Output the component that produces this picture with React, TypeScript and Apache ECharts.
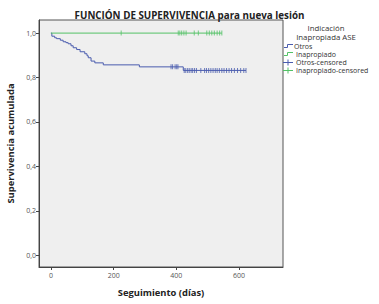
import React, { useEffect, useRef } from "react";
import * as echarts from "echarts";

// Kaplan-Meier: "Otros"
const otrosEventDays = [0, 3, 12, 18, 30, 39, 48, 55, 64, 71, 82, 93, 108, 115, 119, 128, 140, 167, 282, 422];
const otrosEventSurv = [1.0, 0.986, 0.979, 0.975, 0.968, 0.961, 0.957, 0.952, 0.943, 0.934, 0.926, 0.916, 0.907, 0.898, 0.889, 0.874, 0.866, 0.857, 0.848, 0.832];
const otrosEndDay = 622;
const otrosCensoredDays = [383, 388, 396, 401, 405, 425, 430, 436, 441, 447, 452, 458, 464, 478, 490, 496, 503, 510, 517, 524, 530, 537, 545, 552, 560, 568, 576, 585, 595, 605, 615, 622];

// Kaplan-Meier: "Inapropiado"
const inaEventDays = [0];
const inaEventSurv = [1.0];
const inaEndDay = 545;
const inaCensoredDays = [224, 406, 411, 417, 424, 431, 457, 470, 497, 505, 513, 521, 530, 538, 545];

const xTicks = [0, 200, 400, 600];
const yTicks = [0, 0.2, 0.4, 0.6, 0.8, 1.0];

const BLUE = "#4a5cae";
const GREEN = "#52c266";
const FONT = "Open Sans";

function survAt(days: number[], surv: number[], t: number): number {
  let s = surv[0];
  for (let i = 0; i < days.length; i++) if (days[i] <= t) s = surv[i];
  return s;
}

function curve(days: number[], surv: number[], end: number): number[][] {
  const pts = days.map((d, i) => [d, surv[i]]);
  pts.push([end, surv[surv.length - 1]]);
  return pts;
}

export default function App() {
  const ref = useRef<HTMLDivElement>(null);
  useEffect(() => {
    if (!ref.current) return;
    const chart = echarts.init(ref.current, undefined, { renderer: "svg" });
    const axisText = { fontFamily: FONT, fontSize: 7, color: "#555" };
    const legText = { fontFamily: FONT, fontSize: 7, fill: "#333", verticalAlign: "middle" as const };
    chart.setOption({
      animation: false,
      backgroundColor: "#ffffff",
      title: {
        text: "FUNCIÓN DE SUPERVIVENCIA para nueva lesión",
        left: "center",
        top: 5,
        textStyle: { fontFamily: FONT, fontSize: 9.8, fontWeight: "bold", color: "#222" },
      },
      grid: {
        left: 39,
        top: 20,
        right: 96,
        bottom: 37,
        show: true,
        containLabel: false,
        outerBoundsMode: "none",
        backgroundColor: "#efefef",
        borderColor: "#555",
        borderWidth: 1,
      },
      xAxis: {
        type: "value",
        min: -38,
        max: 740,
        name: "Seguimiento (días)",
        nameLocation: "middle",
        nameGap: 21,
        nameTextStyle: { fontFamily: FONT, fontSize: 9.4, fontWeight: "bold", color: "#222" },
        axisLine: { show: true, onZero: false, lineStyle: { color: "#444" } },
        axisTick: { show: true, length: 3, customValues: xTicks, lineStyle: { color: "#444" } },
        axisLabel: { ...axisText, margin: 5, customValues: xTicks, formatter: (v: number) => String(v) },
        splitLine: { show: false },
      },
      yAxis: {
        type: "value",
        min: -0.053,
        max: 1.059,
        name: "Supervivencia acumulada",
        nameLocation: "middle",
        nameGap: 23,
        nameTextStyle: { fontFamily: FONT, fontSize: 9.4, fontWeight: "bold", color: "#222" },
        axisLine: { show: true, onZero: false, lineStyle: { color: "#444" } },
        axisTick: { show: true, length: 3, customValues: yTicks, lineStyle: { color: "#444" } },
        axisLabel: {
          ...axisText,
          margin: 3,
          customValues: yTicks,
          formatter: (v: number) => v.toFixed(1).replace(".", ","),
        },
        splitLine: { show: false },
      },
      series: [
        {
          name: "Otros",
          type: "line",
          step: "end",
          showSymbol: false,
          data: curve(otrosEventDays, otrosEventSurv, otrosEndDay),
          lineStyle: { color: BLUE, width: 1 },
          itemStyle: { color: BLUE },
        },
        {
          name: "Inapropiado",
          type: "line",
          step: "end",
          showSymbol: false,
          data: curve(inaEventDays, inaEventSurv, inaEndDay),
          lineStyle: { color: GREEN, width: 1 },
          itemStyle: { color: GREEN },
        },
        {
          name: "Otros-censored",
          type: "scatter",
          symbol: "rect",
          symbolSize: [1, 5],
          data: otrosCensoredDays.map((d) => [d, survAt(otrosEventDays, otrosEventSurv, d)]),
          itemStyle: { color: BLUE },
        },
        {
          name: "Inapropiado-censored",
          type: "scatter",
          symbol: "rect",
          symbolSize: [1, 5],
          data: inaCensoredDays.map((d) => [d, survAt(inaEventDays, inaEventSurv, d)]),
          itemStyle: { color: GREEN },
        },
      ],
      graphic: [
        {
          type: "text",
          x: 326,
          y: 32.5,
          style: {
            text: "Indicación\nInapropiada ASE",
            fontFamily: FONT,
            fontSize: 7.8,
            lineHeight: 9.5,
            fill: "#333",
            align: "center",
            verticalAlign: "middle",
          },
        },
        { type: "polyline", shape: { points: [[284, 47.5], [287.5, 47.5], [287.5, 44.5], [293, 44.5]] }, style: { stroke: BLUE, lineWidth: 1, fill: null } },
        { type: "text", x: 294, y: 46, style: { text: "Otros", ...legText } },
        { type: "polyline", shape: { points: [[284, 55.5], [287.5, 55.5], [287.5, 52.5], [293, 52.5]] }, style: { stroke: GREEN, lineWidth: 1, fill: null } },
        { type: "text", x: 296, y: 54.5, style: { text: "Inapropiado", ...legText } },
        { type: "line", shape: { x1: 283, y1: 62.5, x2: 293, y2: 62.5 }, style: { stroke: BLUE, lineWidth: 1 } },
        { type: "line", shape: { x1: 288, y1: 59.5, x2: 288, y2: 65.5 }, style: { stroke: BLUE, lineWidth: 1 } },
        { type: "text", x: 296, y: 62.5, style: { text: "Otros-censored", ...legText } },
        { type: "line", shape: { x1: 283, y1: 70.5, x2: 293, y2: 70.5 }, style: { stroke: GREEN, lineWidth: 1 } },
        { type: "line", shape: { x1: 288, y1: 67.5, x2: 288, y2: 73.5 }, style: { stroke: GREEN, lineWidth: 1 } },
        { type: "text", x: 296, y: 70.5, style: { text: "Inapropiado-censored", ...legText } },
      ],
    });
    return () => chart.dispose();
  }, []);
  return (
    <div
      ref={ref}
      style={{ position: "fixed", left: 0, top: 0, width: 379, height: 304 }}
    />
  );
}
